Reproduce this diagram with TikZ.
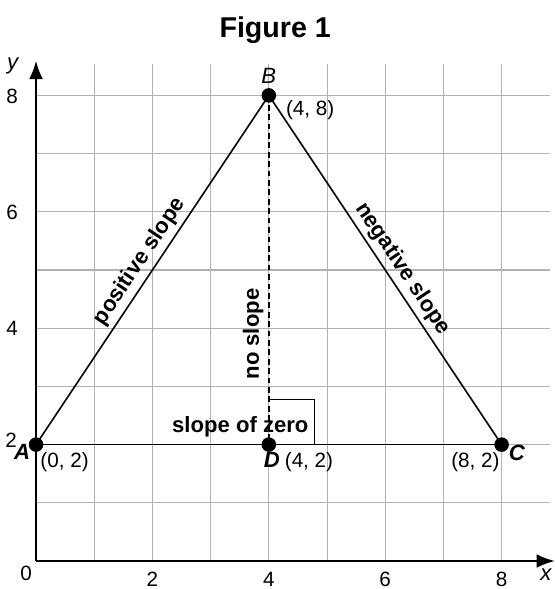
\documentclass[tikz,border=0pt]{standalone}
\usepackage{fontspec}
\setmainfont{Liberation Sans}
\usetikzlibrary{arrows.meta}
\begin{document}
\begin{tikzpicture}[x=1cm,y=1cm,
  gridline/.style={gray!60, line width=0.5pt},
  axisline/.style={black, line width=1.3pt, -{Latex[length=3.2mm,width=2.4mm]}},
  side/.style={black, line width=0.8pt},
  dot/.style={circle, fill=black, inner sep=0pt, minimum size=0.25cm},
  lbl/.style={font=\fontsize{10.1}{12}\selectfont, inner sep=0pt},
  blbl/.style={font=\fontsize{10.8}{12}\selectfont\bfseries, inner sep=0pt},
  ptname/.style={font=\fontsize{10.8}{12}\selectfont\bfseries\itshape, inner sep=0pt}]
\useasboundingbox (-0.619,-0.481) rectangle (8.917,9.639);
% grid
\foreach \i in {1,...,8} {
  \draw[gridline] (\i,0) -- (\i,8.54);
  \draw[gridline] (0,\i) -- (8.83,\i);
}
% axes
\coordinate (O) at (0,0);
\coordinate (xend) at (8.92,0);
\coordinate (yend) at (0,8.6);
\draw[axisline] (O) -- (xend);
\draw[axisline] (O) -- (yend);
% points
\node[dot] (A) at (0,2) {};
\node[dot] (B) at (4,8) {};
\node[dot] (C) at (8,2) {};
\node[dot] (D) at (4,2) {};
% right angle mark
\coordinate (R1) at (4,2.78);
\coordinate (R2) at (4.78,2.78);
\coordinate (R3) at (4.78,2);
\draw[black, line width=0.5pt] (R1) -- (R2) -- (R3);
% sides
\draw[side] (A.center) -- node[midway, sloped, above=2pt, blbl] {positive slope} (B.center);
\draw[side] (B.center) -- node[midway, sloped, above=2pt, blbl, xshift=0.15cm] {negative slope} (C.center);
\draw[side] (A.center) -- (C.center);
\draw[black, line width=1.1pt, dash pattern=on 2.8pt off 1.8pt] (B.center) -- (D.center);
% labels on segments
\node[blbl, rotate=90] (ns) at (3.73,3.90) {no slope};
\node[blbl, anchor=base] (sz) at (3.51,2.20) {slope of zero};
% point labels
\node[lbl, font=\fontsize{10.8}{12}\selectfont\itshape] (Bl) at (4.0,8.33) {B};
\node[lbl] (Bc) at (4.71,7.75) {(4, 8)};
\node[ptname] (Al) at (-0.24,1.87) {A};
\node[lbl] (Ac) at (0.49,1.70) {(0, 2)};
\node[ptname] (Dl) at (4.05,1.74) {D};
\node[lbl] (Dc) at (4.69,1.70) {(4, 2)};
\node[lbl] (Cc) at (7.55,1.70) {(8, 2)};
\node[ptname] (Cl) at (8.26,1.86) {C};
% axis numbers
\node[lbl] (n0) at (-0.17,-0.21) {0};
\foreach \v in {2,4,6,8} {
  \node[lbl] (xl\v) at (\v,-0.32) {\v};
}
\node[lbl] (y8) at (-0.41,7.99) {8};
\node[lbl] (y6) at (-0.41,5.99) {6};
\node[lbl] (y4) at (-0.41,3.99) {4};
\node[lbl] (y2) at (-0.43,2.08) {2};
\node[lbl, font=\fontsize{10.8}{12}\selectfont\itshape] (xlab) at (8.76,-0.24) {x};
\node[lbl, font=\fontsize{10.8}{12}\selectfont\itshape] (ylab) at (-0.4,8.50) {y};
% title
\node[font=\fontsize{14}{16}\selectfont\bfseries, inner sep=0pt] (title) at (4.11,9.12) {Figure 1};
\end{tikzpicture}
\end{document}
